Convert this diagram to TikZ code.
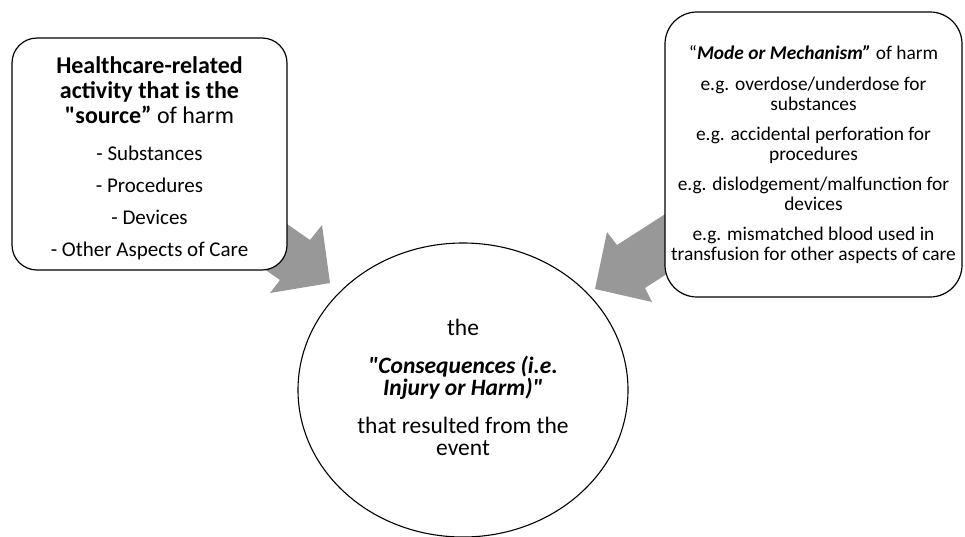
\documentclass[tikz,border=0pt]{standalone}
\usepackage{fontspec}
\setmainfont{Carlito}[Ligatures=TeXOff]
\usetikzlibrary{shapes.geometric}
\definecolor{arrowgray}{RGB}{152,152,152}
\begin{document}
\begin{tikzpicture}[x=1pt,y=-1pt,
  box/.style={draw=black, line width=1.2pt, fill=white, inner sep=0pt},
  bigarrow/.style={fill=arrowgray, draw=none}]
\useasboundingbox (0,0) rectangle (965,536);
% block arrows (tails hidden behind the boxes)
\coordinate (tipL) at (330,283);
\coordinate (tipR) at (595,289);
\fill[bigarrow] (244,194) -- (310,240) -- (322,225) -- (tipL) -- (270,293) -- (280,280) -- (214,234) -- cycle;
\fill[bigarrow] (684,202) -- (617,245) -- (607,232) -- (tipR) -- (652,302) -- (645,288) -- (712,245) -- cycle;
% left box
\node[box, rounded corners=25pt, minimum width=275pt, minimum height=232pt] (src) at (149.5,154)
{\begin{minipage}{265pt}\centering
 \vspace*{8pt}
 \fontsize{24}{25}\selectfont\bfseries Healthcare-related\\ activity that is the\\ "source”\mdseries{} of harm\par
 \vspace{5pt}
 \fontsize{21}{32}\selectfont - Substances\par - Procedures\par - Devices\par - Other Aspects of Care\par
 \end{minipage}};
% right box
\node[box, rounded corners=32pt, minimum width=297pt, minimum height=285pt] (mode) at (813.5,154.5)
{\begin{minipage}{296pt}\centering
 \fontsize{19.4}{20}\selectfont
 “\textbf{\textit{Mode or Mechanism”}} of harm\par\vspace{11pt}
 e.g. overdose/underdose for\\ substances\par\vspace{10pt}
 e.g. accidental perforation for\\ procedures\par\vspace{10pt}
 e.g. dislodgement/malfunction for\\ devices\par\vspace{10pt}
 e.g. mismatched blood used in\\ transfusion for other aspects of care\par
 \end{minipage}};
% consequences ellipse
\node[draw=black, line width=1.1pt, ellipse, fill=white, inner sep=0pt,
      minimum width=330pt, minimum height=294pt] (cons) at (463,390)
{\begin{minipage}{225pt}\centering
 \fontsize{23.5}{22}\selectfont
 the\par\vspace{16pt}
 \textbf{\textit{"Consequences (i.e.\\ Injury or Harm)"}}\par\vspace{16pt}
 that resulted from the\\ event\par
 \vspace{6pt}
 \end{minipage}};
\end{tikzpicture}
\end{document}
